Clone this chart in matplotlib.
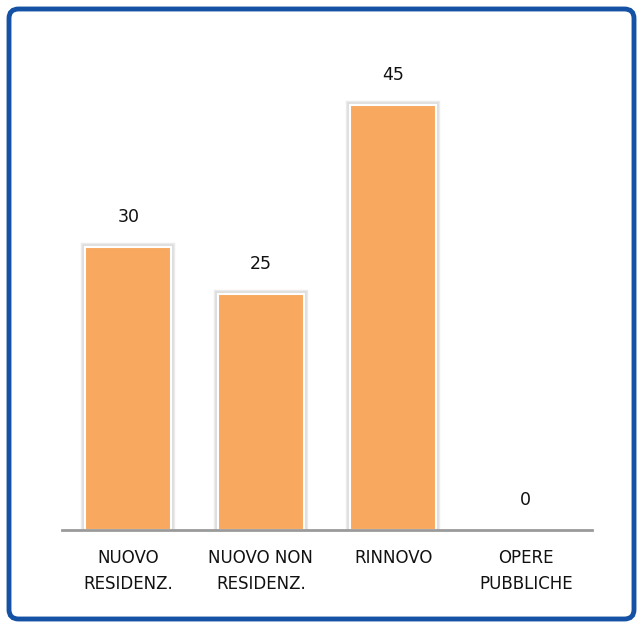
import matplotlib.pyplot as plt
import matplotlib.patheffects as pe
from matplotlib.patches import FancyBboxPatch

categories = ['NUOVO\nRESIDENZ.', 'NUOVO NON\nRESIDENZ.', 'RINNOVO', 'OPERE\nPUBBLICHE']
values = [30, 25, 45, 0]

fig = plt.figure(figsize=(6.43, 6.28), dpi=100)

# rounded blue frame around the whole chart
frame = FancyBboxPatch((9 / 643, 9 / 628), 625 / 643, 610 / 628,
                       boxstyle='round,pad=0,rounding_size=0.015',
                       transform=fig.transFigure, fill=False,
                       edgecolor='#1552A6', linewidth=3.5)
fig.patches.append(frame)

ax = fig.add_axes([62 / 643, 98 / 628, 530 / 643, 472 / 628])
x = range(len(values))
bars = ax.bar(x, values, width=0.65, color='#F8A85F', edgecolor='white',
              linewidth=1.5, zorder=3)
for b, v in zip(bars, values):
    if v > 0:
        # soft grey halo around each bar
        b.set_path_effects([pe.withStroke(linewidth=6, foreground='#EBEBEB'),
                            pe.withStroke(linewidth=4, foreground='#DDDDDD'),
                            pe.Normal()])

for xi, v in zip(x, values):
    ax.text(xi, v + 2.2, str(v), ha='center', va='bottom', fontsize=12.5, color='#111111')

ax.set_xlim(-0.5, 3.5)
ax.set_ylim(0, 50)
ax.set_yticks([])
ax.set_xticks(list(x))
ax.set_xticklabels(categories, fontsize=12, color='#111111', linespacing=1.55)
ax.tick_params(axis='x', length=0, pad=14)
for s in ['top', 'right', 'left']:
    ax.spines[s].set_visible(False)
ax.spines['bottom'].set_color('#9A9A9A')
ax.spines['bottom'].set_linewidth(2)
ax.spines['bottom'].set_zorder(4)

fig.savefig('out.png', dpi=100)
